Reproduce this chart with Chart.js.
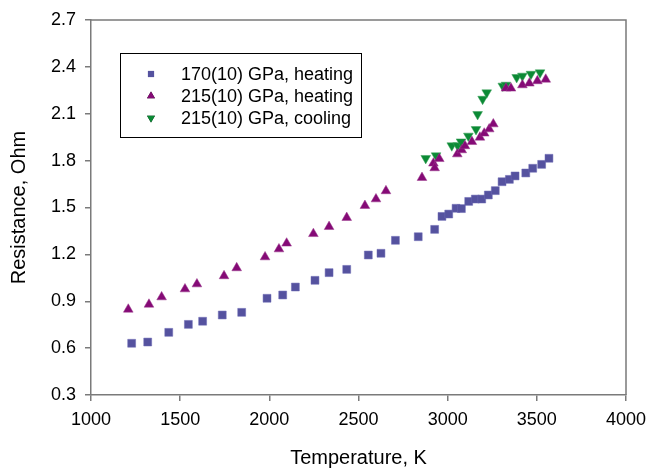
<!DOCTYPE html>
<html>
<head>
<meta charset="utf-8">
<script src="https://cdn.jsdelivr.net/npm/chart.js@4/dist/chart.umd.min.js"></script>
<style>
html,body{margin:0;padding:0;background:#fff;}
#wrap{width:648px;height:472px;position:relative;}
</style>
</head>
<body>
<div id="wrap"><canvas id="c" width="648" height="472"></canvas></div>
<script>
// 170(10) GPa, heating
const temp170 = [1228,1318,1436,1546,1626,1736,1845,1987,2075,2146,2256,2335,2434,2555,2626,2707,2835,2927,2968,3006,3047,3077,3118,3155,3191,3228,3267,3305,3346,3378,3438,3477,3527,3568];
const res170  = [0.631,0.639,0.701,0.752,0.772,0.812,0.829,0.919,0.940,0.991,1.034,1.083,1.104,1.196,1.207,1.290,1.313,1.360,1.443,1.458,1.495,1.493,1.539,1.554,1.554,1.580,1.608,1.665,1.680,1.702,1.721,1.751,1.776,1.815];
// 215(10) GPa, heating
const temp215h = [1209,1325,1396,1527,1594,1746,1817,1976,2054,2097,2247,2335,2434,2536,2598,2654,2856,2920,2927,2953,3054,3079,3097,3136,3181,3205,3233,3256,3327,3355,3419,3458,3503,3550];
const res215h  = [0.848,0.880,0.927,0.978,1.010,1.062,1.113,1.183,1.234,1.271,1.332,1.377,1.435,1.512,1.554,1.606,1.691,1.783,1.753,1.812,1.842,1.868,1.894,1.921,1.949,1.975,2.002,2.034,2.263,2.263,2.284,2.295,2.310,2.320];
// 215(10) GPa, cooling
const temp215c = [2877,2935,3023,3056,3075,3116,3159,3168,3196,3219,3309,3327,3387,3419,3467,3518];
const res215c  = [1.815,1.832,1.896,1.896,1.921,1.958,2.000,2.096,2.194,2.235,2.278,2.284,2.333,2.342,2.354,2.363];

const seriesLabels = ['170(10) GPa, heating','215(10) GPa, heating','215(10) GPa, cooling'];
const xTicks = [1000,1500,2000,2500,3000,3500,4000];
const yTicks = [0.3,0.6,0.9,1.2,1.5,1.8,2.1,2.4,2.7];
const xTitle = 'Temperature, K';
const yTitle = 'Resistance, Ohm';

const FONT = '"Liberation Sans", Arial, sans-serif';
const toPts = (xs, ys) => xs.map((x, i) => ({x: x, y: ys[i]}));

const boxPlugin = {
  id: 'box',
  afterDraw(chart) {
    const {ctx, chartArea: a} = chart;
    ctx.save();
    ctx.strokeStyle = '#7a7a7a';
    ctx.lineWidth = 1.5;
    ctx.beginPath();
    ctx.moveTo(a.left, a.top);
    ctx.lineTo(a.right, a.top);
    ctx.lineTo(a.right, a.bottom);
    ctx.stroke();
    // legend
    ctx.fillStyle = '#fff';
    ctx.fillRect(120, 53, 242, 85);
    ctx.strokeStyle = '#000';
    ctx.lineWidth = 1;
    ctx.strokeRect(120.5, 53.5, 241, 84);
    chart.data.datasets.forEach((ds, i) => {
      const y = 74 + 22 * i;
      Chart.helpers.drawPoint(ctx, {
        pointStyle: ds.pointStyle,
        radius: ds.pointStyle === 'rect' ? 4.4 : 4.6,
        rotation: ds.rotation || 0,
        borderWidth: 0
      }, 151, y);
      ctx.fillStyle = ds.backgroundColor;
      ctx.fill();
      ctx.fillStyle = '#000';
      ctx.font = '18px ' + FONT;
      ctx.textBaseline = 'middle';
      ctx.textAlign = 'left';
      ctx.fillText(ds.label, 181, y + 1);
    });
    ctx.restore();
  }
};

const bgPlugin = {
  id: 'bg',
  beforeDraw(chart) {
    const ctx = chart.ctx;
    ctx.save();
    ctx.fillStyle = '#fff';
    ctx.fillRect(0, 0, chart.width, chart.height);
    ctx.restore();
  }
};

new Chart(document.getElementById('c'), {
  type: 'scatter',
  data: {
    datasets: [
      {label: seriesLabels[0], data: toPts(temp170, res170), pointStyle: 'rect', pointRadius: 5.6,
       backgroundColor: '#55529f', borderColor: '#6d6ab5', borderWidth: 0.5},
      {label: seriesLabels[1], data: toPts(temp215h, res215h), pointStyle: 'triangle', pointRadius: 5.6,
       backgroundColor: '#850a76', borderColor: '#9a3a8c', borderWidth: 0.5},
      {label: seriesLabels[2], data: toPts(temp215c, res215c), pointStyle: 'triangle', rotation: 180, pointRadius: 5.6,
       backgroundColor: '#0b8a35', borderColor: '#3aa05a', borderWidth: 0.5}
    ]
  },
  options: {
    responsive: false,
    animation: false,
    devicePixelRatio: 1,
    layout: {padding: {top: 0, right: 0, left: 0, bottom: 0}},
    plugins: {legend: {display: false}, tooltip: {enabled: false}},
    elements: {point: {hoverRadius: 5.6}},
    scales: {
      x: {
        type: 'linear', min: 1000, max: 4000,
        afterBuildTicks: s => { s.ticks = xTicks.map(v => ({value: v})); },
        afterFit: s => { s.height = 77; s.paddingRight = 22; s.paddingLeft = 0; },
        grid: {drawOnChartArea: false, drawTicks: true, tickLength: 6, color: '#7a7a7a', lineWidth: 1.5},
        border: {display: true, color: '#7a7a7a', width: 1.5},
        ticks: {color: '#000', font: {family: FONT, size: 18}, padding: 8, maxRotation: 0,
                callback: v => String(v)},
        title: {display: true, text: xTitle, color: '#000', font: {family: FONT, size: 20}, padding: {top: 2, bottom: 2}}
      },
      y: {
        type: 'linear', min: 0.3, max: 2.7,
        afterBuildTicks: s => { s.ticks = yTicks.map(v => ({value: v})); },
        afterFit: s => { s.width = 91; s.paddingTop = 20; s.paddingBottom = 0; },
        grid: {drawOnChartArea: false, drawTicks: true, tickLength: 6, color: '#7a7a7a', lineWidth: 1.5},
        border: {display: true, color: '#7a7a7a', width: 1.5},
        ticks: {color: '#000', font: {family: FONT, size: 18}, padding: 9,
                callback: v => v.toFixed(1)},
        title: {display: true, text: yTitle, color: '#000', font: {family: FONT, size: 20}, padding: {top: 7, bottom: 7}}
      }
    }
  },
  plugins: [bgPlugin, boxPlugin]
});
</script>
</body>
</html>
